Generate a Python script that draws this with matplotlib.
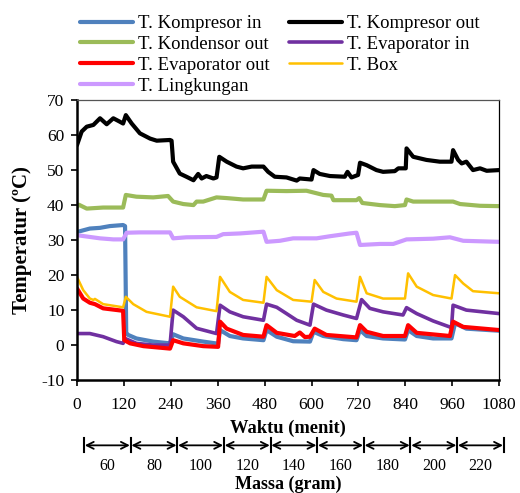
import matplotlib
matplotlib.use("Agg")
import matplotlib.pyplot as plt
from matplotlib.transforms import blended_transform_factory

plt.rcParams['font.family'] = ['Liberation Serif', 'DejaVu Serif']
plt.rcParams['axes.unicode_minus'] = False

# Temperature logs (time in minutes, temperature in degC)
t_komp_in = [0, 3, 33, 59, 84, 118, 123, 126, 131, 152, 195, 238, 246, 272, 323, 361,
             366, 391, 425, 477, 485, 511, 553, 596, 605, 630, 681, 715, 724, 741, 783,
             839, 847, 869, 911, 958, 967, 996, 1080]
v_komp_in = [32.2, 32.4, 33.3, 33.5, 34.0, 34.3, 34.0, 3.5, 2.9, 1.9, 1.0, 0.5, 3.1, 1.9, 1.0, 0.4,
             4.3, 2.6, 1.9, 1.4, 4.3, 2.4, 1.1, 1.0, 3.8, 2.6, 1.7, 1.4, 4.3, 2.6, 1.9,
             1.6, 4.3, 2.6, 1.9, 1.9, 6.2, 4.7, 4.1]

t_komp_out = [0, 12, 25, 42, 59, 76, 93, 110, 118, 125, 140, 161, 187, 204, 238, 242, 246, 263,
              280, 298, 310, 319, 331, 349, 357, 364, 383, 408, 425, 447, 477, 489, 506, 536,
              562, 570, 600, 605, 621, 647, 685, 692, 702, 719, 724, 741, 766, 783, 813, 822,
              841, 843, 860, 894, 928, 958, 962, 975, 984, 996, 1013, 1031, 1048, 1080]
v_komp_out = [57.1, 61.0, 62.4, 62.9, 64.8, 63.1, 64.8, 63.8, 63.3, 65.7, 63.3, 60.5, 59.0, 58.4,
              58.6, 58.4, 52.4, 49.0, 48.1, 47.1, 48.9, 47.6, 48.3, 47.6, 47.9, 53.8, 52.4, 51.0,
              50.5, 51.0, 51.0, 49.5, 48.1, 47.9, 47.0, 47.6, 47.3, 50.0, 48.9, 48.3, 48.1, 49.5,
              47.9, 48.6, 52.1, 51.4, 50.0, 49.5, 49.7, 50.5, 50.5, 56.2, 53.8, 52.9, 52.4, 52.4,
              55.7, 52.9, 51.9, 52.4, 50.0, 50.5, 49.8, 50.0]

t_kondensor = [0, 5, 25, 67, 118, 125, 152, 195, 233, 246, 272, 298, 306, 323, 357, 383, 425,
               477, 485, 536, 587, 630, 651, 656, 715, 722, 730, 775, 813, 839, 843, 860, 962,
               980, 1031, 1080]
v_kondensor = [39.5, 40.1, 39.0, 39.3, 39.3, 42.9, 42.4, 42.2, 42.6, 41.0, 40.3, 40.0, 41.0, 41.0,
               42.2, 42.0, 41.6, 41.6, 44.1, 44.0, 44.1, 42.9, 42.7, 41.4, 41.4, 42.0, 40.6, 40.0,
               39.7, 40.0, 41.6, 41.0, 41.0, 40.3, 39.8, 39.7]

t_evap_in = [0, 33, 67, 101, 118, 123, 152, 195, 238, 246, 272, 306, 357, 366, 391, 425, 477,
             485, 511, 536, 562, 596, 605, 638, 681, 715, 728, 749, 783, 834, 843, 869, 911,
             958, 962, 996, 1080]
v_evap_in = [3.3, 3.3, 2.4, 1.0, 0.5, 1.9, 0.5, 0.0, 0.0, 10.0, 8.1, 4.8, 3.3, 11.4, 9.5, 8.1, 7.1,
             11.7, 10.8, 9.0, 7.1, 5.7, 11.7, 10.0, 8.6, 7.6, 13.0, 10.5, 9.5, 8.6, 10.7, 9.0, 6.9,
             5.0, 11.4, 10.0, 9.0]

t_evap_out = [0, 16, 33, 46, 67, 118, 121, 136, 170, 238, 246, 272, 323, 361, 366, 383, 425, 477,
              485, 511, 557, 570, 583, 596, 608, 638, 715, 724, 741, 783, 839, 847, 869, 954,
              962, 988, 1080]
v_evap_out = [16.2, 13.3, 12.1, 11.7, 10.5, 9.8, 1.4, 0.5, -0.3, -1.0, 1.4, 0.5, -0.3, -0.5, 6.7,
              4.7, 2.9, 2.4, 5.7, 3.5, 2.6, 3.6, 2.3, 2.4, 4.7, 2.9, 2.2, 5.7, 3.8, 2.6, 2.6, 5.7,
              3.5, 2.6, 6.7, 5.2, 4.3]

t_box = [0, 16, 33, 42, 46, 67, 118, 125, 144, 178, 238, 246, 263, 306, 357, 366, 391, 425, 477,
         485, 511, 553, 600, 608, 630, 664, 715, 724, 741, 783, 839, 847, 869, 911, 958, 967,
         988, 1013, 1080]
v_box = [19.5, 15.7, 13.3, 12.9, 13.2, 11.7, 10.8, 13.8, 11.7, 9.5, 8.1, 16.7, 13.8, 10.8, 9.7,
         19.5, 15.2, 12.9, 12.1, 19.5, 15.7, 12.9, 12.4, 18.6, 15.2, 13.3, 12.4, 19.5, 14.8, 13.3,
         13.3, 20.5, 16.7, 14.3, 13.3, 20.0, 17.6, 15.4, 14.8]

t_lingkungan = [0, 59, 93, 118, 127, 161, 238, 246, 280, 357, 374, 417, 477, 485, 519, 553, 613,
                647, 698, 715, 724, 775, 809, 843, 911, 954, 988, 1080]
v_lingkungan = [31.4, 30.5, 30.2, 30.2, 32.1, 32.2, 32.2, 30.5, 30.8, 30.9, 31.7, 31.9, 32.4, 29.5,
                29.8, 30.5, 30.5, 31.1, 31.9, 32.1, 28.6, 28.9, 28.9, 30.2, 30.4, 30.8, 29.8, 29.5]

x_ticks = [0, 120, 240, 360, 480, 600, 720, 840, 960, 1080]
y_ticks = [-10, 0, 10, 20, 30, 40, 50, 60, 70]
massa = [60, 80, 100, 120, 140, 160, 180, 200, 220]

series = [
    ("T. Kompresor in", t_komp_in, v_komp_in, "#4F81BD", 3.0),
    ("T. Kompresor out", t_komp_out, v_komp_out, "#000000", 3.0),
    ("T. Kondensor out", t_kondensor, v_kondensor, "#9BBB59", 3.0),
    ("T. Evaporator in", t_evap_in, v_evap_in, "#7030A0", 2.6),
    ("T. Evaporator out", t_evap_out, v_evap_out, "#FF0000", 3.0),
    ("T. Box", t_box, v_box, "#FFC000", 1.8),
    ("T. Lingkungan", t_lingkungan, v_lingkungan, "#CC99FF", 3.0),
]

fig = plt.figure(figsize=(5.2, 4.93), dpi=100)
ax = fig.add_axes([0.148, 0.229, 0.812, 0.568])

handles = {}
for name, t, v, c, lw in series:
    ln, = ax.plot(t, v, color=c, lw=lw, solid_joinstyle='round', solid_capstyle='round', label=name)
    handles[name] = ln

ax.set_xlim(0, 1080)
ax.set_ylim(-10, 70)
ax.set_xticks(x_ticks)
ax.set_yticks(y_ticks)
ax.tick_params(labelsize=12.5, direction='out', length=4, width=1.2)
ax.tick_params(axis='x', pad=8)
ax.tick_params(axis='y', pad=5)
for s in ['left', 'bottom']:
    ax.spines[s].set_linewidth(1.8)
for s in ['top', 'right']:
    ax.spines[s].set_linewidth(0.9)
ax.spines['top'].set_color('#555555')

ax.set_ylabel("Temperatur (ºC)", fontsize=15, fontweight='bold', labelpad=7)
ax.set_xlabel("Waktu (menit)", fontsize=13.3, fontweight='bold', labelpad=5)

# Legend in two columns, filled row by row
order = ["T. Kompresor in", "T. Kondensor out", "T. Evaporator out", "T. Lingkungan",
         "T. Kompresor out", "T. Evaporator in", "T. Box"]
leg = fig.legend([handles[n] for n in order], order, ncol=2, frameon=False,
                 loc='upper left', bbox_to_anchor=(80 / 520, 1 - 15 / 493), fontsize=13.5,
                 handlelength=2.85, handletextpad=0.25, columnspacing=1.0,
                 labelspacing=0.2, borderaxespad=0, borderpad=0)

# Mass intervals below the time axis
trans = blended_transform_factory(ax.transData, ax.transAxes)
y_arr = -0.233
bounds = [18 + 119.3 * k for k in range(len(massa) + 1)]
for b in bounds:
    ax.plot([b, b], [y_arr - 0.025, y_arr + 0.025], color='black', lw=1.5,
            transform=trans, clip_on=False)
for k, m in enumerate(massa):
    ax.annotate("", xy=(bounds[k] + 2, y_arr), xytext=(bounds[k + 1] - 2, y_arr),
                xycoords=trans, textcoords=trans,
                arrowprops=dict(arrowstyle='<->,head_length=0.5,head_width=0.25',
                                color='black', lw=1.3, shrinkA=0, shrinkB=0))
    ax.text((bounds[k] + bounds[k + 1]) / 2, y_arr - 0.073, str(m), transform=trans,
            ha='center', va='center', fontsize=11.5)

ax.text(0.5, -0.372, "Massa (gram)", transform=ax.transAxes, ha='center', va='center',
        fontsize=13, fontweight='bold')

fig.savefig("out.png", dpi=100)
